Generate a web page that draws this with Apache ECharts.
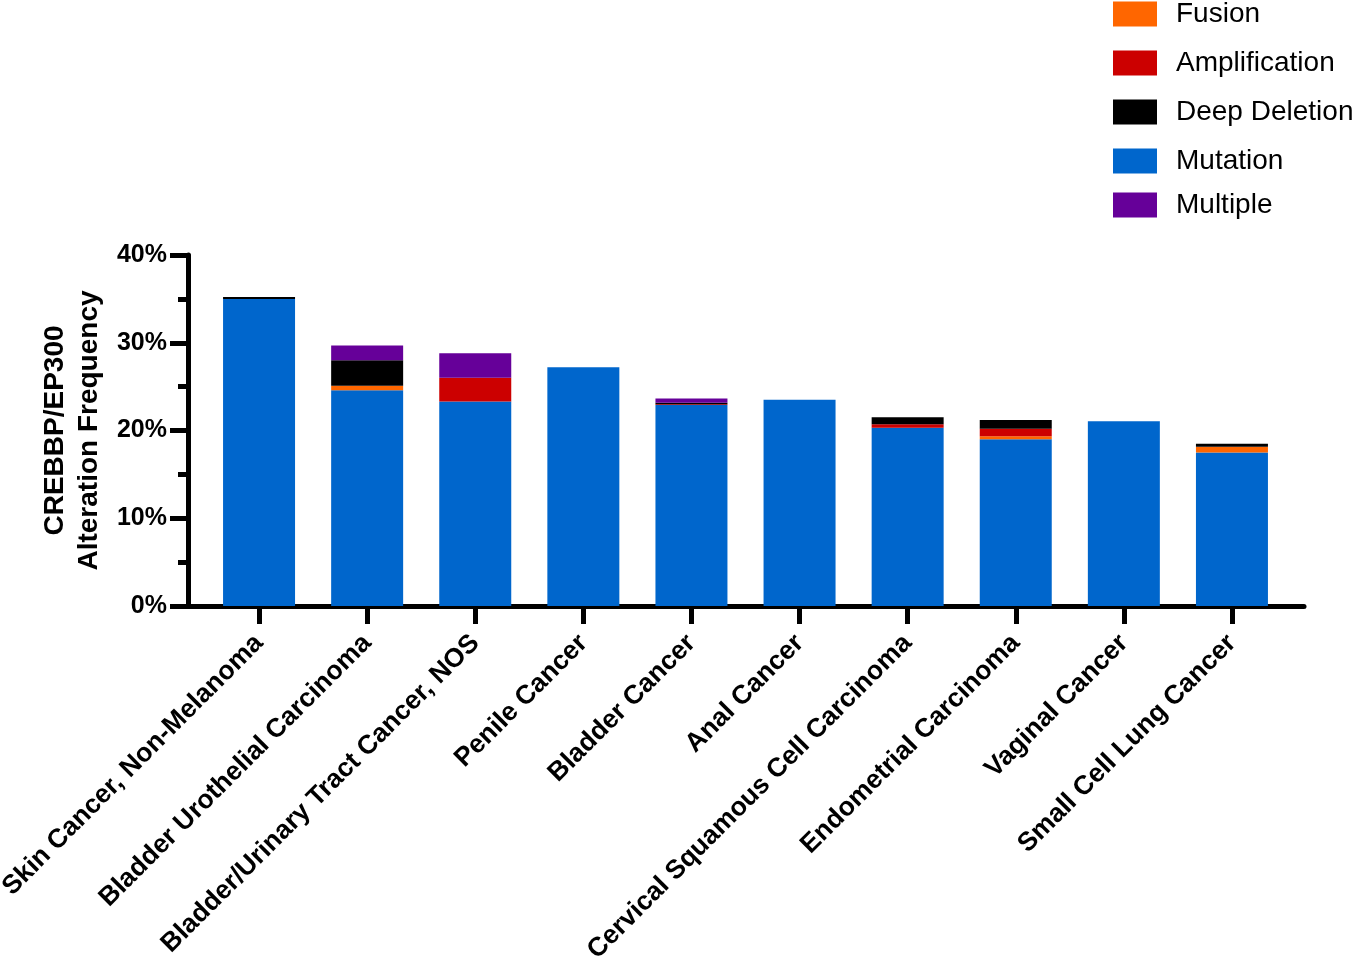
<!DOCTYPE html>
<html>
<head>
<meta charset="utf-8">
<script src="https://cdn.jsdelivr.net/npm/echarts@6/dist/echarts.min.js"></script>
<style>
html,body{margin:0;padding:0;background:#fff;}
#chart{width:1352px;height:960px;}
</style>
</head>
<body>
<div id="chart"></div>
<script>
const categories = [
  'Skin Cancer, Non-Melanoma',
  'Bladder Urothelial Carcinoma',
  'Bladder/Urinary Tract Cancer, NOS',
  'Penile Cancer',
  'Bladder Cancer',
  'Anal Cancer',
  'Cervical Squamous Cell Carcinoma',
  'Endometrial Carcinoma',
  'Vaginal Cancer',
  'Small Cell Lung Cancer'
];
const mutation      = [35.0, 24.6, 23.3, 27.2, 22.9, 23.5, 20.3, 19.0, 21.05, 17.5];
const fusion        = [null, 0.5, null, null, null, null, null, 0.35, null, 0.65];
const amplification = [null, null, 2.7, null, 0.1, null, 0.4, 0.85, null, null];
const deepDeletion  = [0.2, 2.9, null, null, 0.15, null, 0.8, 1.0, null, 0.35];
const multiple      = [null, 1.7, 2.8, null, 0.5, null, null, null, null, null];
const yTicks = [0, 10, 20, 30, 40];

const colors = {
  'Fusion': '#FF6600',
  'Amplification': '#CC0000',
  'Deep Deletion': '#000000',
  'Mutation': '#0066CC',
  'Multiple': '#660099'
};

const FONT = '"Liberation Sans", Arial, Helvetica, sans-serif';
const chart = echarts.init(document.getElementById('chart'), null, {renderer: 'canvas'});

function bar(name, data) {
  return {
    name: name, type: 'bar', stack: 'total', data: data,
    xAxisIndex: 0, yAxisIndex: 0,
    barWidth: '66.6%',
    itemStyle: {color: colors[name]},
    emphasis: {disabled: true}
  };
}

const legendCommon = {
  orient: 'vertical', left: 1113, icon: 'rect', padding: 0,
  itemWidth: 44, itemHeight: 25, itemGap: 21,
  textStyle: {fontFamily: FONT, fontSize: 28, color: '#000', padding: [0, 0, 0, 14]},
  selectedMode: false
};

const option = {
  animation: false,
  backgroundColor: '#fff',
  legend: [
    Object.assign({}, legendCommon, {top: 0, data: ['Fusion', 'Amplification', 'Deep Deletion', 'Mutation']}),
    Object.assign({}, legendCommon, {top: 191, data: ['Multiple']})
  ],
  grid: [
    {left: 205, right: 66, top: 255, bottom: 354, containLabel: false, outerBoundsMode: 'none'},
    {left: 188, right: 48, top: 255, bottom: 354, containLabel: false, outerBoundsMode: 'none'}
  ],
  xAxis: [
    {
      type: 'category', gridIndex: 0, data: categories,
      axisLine: {show: false},
      axisTick: {show: true, alignWithLabel: true, length: 18, lineStyle: {width: 5, color: '#000'}},
      axisLabel: {
        rotate: 45, interval: 0, margin: 33,
        fontFamily: FONT, fontSize: 26.5, fontWeight: 'bold', color: '#000'
      },
      splitLine: {show: false}
    },
    {
      type: 'value', gridIndex: 1, min: 0, max: 1,
      axisLine: {show: true, lineStyle: {width: 5, color: '#000'}},
      axisTick: {show: false}, axisLabel: {show: false}, splitLine: {show: false}
    }
  ],
  yAxis: [
    {
      type: 'value', gridIndex: 0, min: 0, max: 40, interval: 10,
      show: false
    },
    {
      type: 'value', gridIndex: 1, min: 0, max: 40, interval: 10,
      axisLine: {show: true, lineStyle: {width: 5, color: '#000'}},
      axisTick: {show: true, length: 18, lineStyle: {width: 5, color: '#000'}},
      minorTick: {show: true, splitNumber: 2, length: 10, lineStyle: {width: 5, color: '#000'}},
      axisLabel: {
        margin: 21, fontFamily: FONT, fontSize: 25, fontWeight: 'bold', color: '#000',
        formatter: function (v) { return yTicks.indexOf(v) >= 0 ? v + '%' : ''; }
      },
      splitLine: {show: false},
      name: 'CREBBP/EP300\nAlteration Frequency',
      nameLocation: 'middle', nameGap: 82,
      nameTextStyle: {fontFamily: FONT, fontSize: 28, fontWeight: 'bold', color: '#000', lineHeight: 34}
    }
  ],
  series: [
    bar('Mutation', mutation),
    bar('Fusion', fusion),
    bar('Amplification', amplification),
    bar('Deep Deletion', deepDeletion),
    bar('Multiple', multiple)
  ]
};
chart.setOption(option);
</script>
</body>
</html>
